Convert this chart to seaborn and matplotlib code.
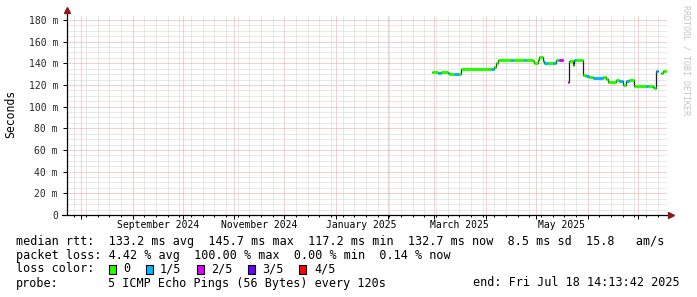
import numpy as np
import pandas as pd
import matplotlib
matplotlib.use("Agg")
import matplotlib.pyplot as plt
import matplotlib.dates as mdates
from matplotlib.patches import Rectangle
from matplotlib.transforms import blended_transform_factory
import seaborn as sns

# ---------------- data ----------------
dates = ["2025-02-27 12:00", "2025-03-03", "2025-03-05", "2025-03-09", "2025-03-10",
         "2025-03-13", "2025-03-16", "2025-03-17", "2025-03-25", "2025-04-02",
         "2025-04-04", "2025-04-06", "2025-04-07", "2025-04-08", "2025-04-10",
         "2025-04-16", "2025-04-17", "2025-04-24", "2025-04-25", "2025-04-29",
         "2025-04-30", "2025-05-02", "2025-05-03", "2025-05-05", "2025-05-06",
         "2025-05-08", "2025-05-11", "2025-05-13", "2025-05-14", "2025-05-15",
         "2025-05-17", "2025-05-20", "2025-05-21", "2025-05-23", "2025-05-24",
         "2025-05-25", "2025-05-28", "2025-05-29", "2025-05-31", "2025-06-02",
         "2025-06-04", "2025-06-09", "2025-06-10", "2025-06-12", "2025-06-13",
         "2025-06-16", "2025-06-18", "2025-06-20", "2025-06-22", "2025-06-24",
         "2025-06-26", "2025-06-29", "2025-07-03", "2025-07-06", "2025-07-07",
         "2025-07-10", "2025-07-11", "2025-07-12", "2025-07-13", "2025-07-15",
         "2025-07-16", "2025-07-17", "2025-07-18 14:13"]
median_ms = [131.7, 131.5, 131.7, 131.5, 130.4,
             130.4, 130.4, 134.5, 134.6, 134.5,
             134.5, 136.5, 140.5, 142.8, 143.2,
             143.0, 143.2, 143.4, 143.0, 142.0,
             140.0, 143.0, 145.7, 142.5, 140.0,
             140.2, 140.0, 143.0, 143.2, 143.0,
             None, 123.0, 142.5, 138.5, 143.0,
             143.2, 143.0, 129.0, 128.0, 127.5,
             126.0, 126.5, 127.0, 125.5, 123.0,
             122.5, 124.5, 124.0, 120.0, 124.0,
             124.5, 119.5, 119.2, 119.0, 119.3,
             118.0, 117.2, 133.2, None, 131.5,
             133.0, 132.7, None]
loss_level = [0, 1, 0, 1, 0,
              1, 0, 0, 0, 0,
              1, 0, 0, 0, 0,
              1, 0, 1, 0, 0,
              0, 0, 0, 0, 1,
              0, 1, 0, 1, 2,
              0, 2, 0, 0, 1,
              0, 0, 0, 1, 0,
              1, 1, 0, 0, 0,
              0, 0, 1, 0, 1,
              0, 0, 0, 1, 0,
              1, 0, 1, 0, 0,
              0, 0, 0]

loss_colors = ["#26ff00", "#00b8ff", "#dd00ff", "#6a00ff", "#ff0000"]
loss_labels = ["0", "1/5", "2/5", "3/5", "4/5"]

month_labels = ["September 2024", "November 2024", "January 2025", "March 2025", "May 2025"]
month_label_dates = ["2024-09-16", "2024-11-16", "2025-01-16", "2025-03-16", "2025-05-16"]
y_ticks = [0, 20, 40, 60, 80, 100, 120, 140, 160, 180]

legend_rows = [
    "median rtt:  133.2 ms avg  145.7 ms max  117.2 ms min  132.7 ms now  8.5 ms sd  15.8   am/s",
    "packet loss: 4.42 % avg  100.00 % max  0.00 % min  0.14 % now",
]
probe_text = "5 ICMP Echo Pings (56 Bytes) every 120s"
end_text = "end: Fri Jul 18 14:13:42 2025"

t_end = pd.Timestamp("2025-07-18 14:13:42")
t_start = t_end - pd.Timedelta(days=360)

# ---------------- build step table ----------------
t = pd.to_datetime(dates, format="mixed")
rows = []
segs = []
run = 0
for i in range(len(t) - 1):
    v = median_ms[i]
    if v is None:
        run += 1
        continue
    rows.append((t[i], v, run))
    rows.append((t[i + 1], v, run))
    segs.append((t[i], t[i + 1], v, loss_level[i]))
df = pd.DataFrame(rows, columns=["time", "median", "run"])
seg = pd.DataFrame(segs, columns=["t0", "t1", "median", "loss"])

# ---------------- figure ----------------
sns.set_theme(style="white")
plt.rcParams["font.family"] = ["DejaVu Sans Mono"]
W, H = 697, 297
fig = plt.figure(figsize=(W / 100, H / 100), dpi=100)
fig.patch.set_facecolor("white")
x0, y0, pw, ph = 67, 215, 600, 200
ax = fig.add_axes([x0 / W, (H - y0) / H, pw / W, ph / H])
ax.set_facecolor("white")

ymax = 184.6
ax.set_xlim(t_start, t_end)
ax.set_ylim(0, ymax)

# grid
ax.xaxis.set_major_locator(mdates.MonthLocator())
ax.xaxis.set_minor_locator(mdates.WeekdayLocator(byweekday=mdates.SU))
ax.xaxis.set_major_formatter(plt.NullFormatter())
ax.set_yticks(y_ticks)
ax.set_yticklabels([("%d m" % v) if v else "0" for v in y_ticks], fontsize=7.06)
ax.set_yticks(np.arange(0, 185, 5), minor=True)
ax.grid(which="minor", color="#d2d2d2", linestyle=(0, (1, 1)), linewidth=0.72)
ax.grid(which="major", color="#f0a0a0", linestyle=(0, (1, 1)), linewidth=0.72)
ax.set_axisbelow(True)
ax.tick_params(axis="y", which="major", length=3, width=0.72, color="black",
               pad=3.5, left=True)
ax.tick_params(axis="y", which="minor", length=0)
ax.tick_params(axis="x", which="major", length=3, width=0.72, color="black", bottom=True)
ax.tick_params(axis="x", which="minor", length=1.5, width=0.72, color="black", bottom=True)
for s in ax.spines.values():
    s.set_visible(False)

# data: dark median line, then loss-coloured segments
sns.lineplot(data=df, x="time", y="median", units="run", estimator=None, sort=False,
             color="#202020", linewidth=0.9, ax=ax, legend=False)
ax.hlines(seg["median"], seg["t0"], seg["t1"],
          colors=[loss_colors[k] for k in seg["loss"]], linewidth=2.2, zorder=3)
ax.set_xlabel("")
ax.set_ylabel("")
ax.set_xlim(t_start, t_end)
ax.set_ylim(0, ymax)

# axes lines with arrows
ax.plot([0, 0], [0, 1.02], transform=ax.transAxes, color="black", lw=0.9,
        clip_on=False, zorder=5)
ax.plot([-0.009, 1.004], [0, 0], transform=ax.transAxes, color="black", lw=0.9,
        clip_on=False, zorder=5)
ax.plot([0], [1.025], transform=ax.transAxes, marker="^", color="#8b1a1a",
        markersize=4, clip_on=False, zorder=6)
ax.plot([1.006], [0], transform=ax.transAxes, marker=">", color="#8b1a1a",
        markersize=4, clip_on=False, zorder=6)

# month labels
trans = blended_transform_factory(ax.transData, ax.transAxes)
for lab, d in zip(month_labels, month_label_dates):
    ax.text(pd.Timestamp(d), -10 / ph, lab, transform=trans, ha="center", va="center",
            fontsize=7.06, color="black")

# y label
fig.text(11 / W, 1 - 114 / H, "Seconds", rotation=90, ha="center", va="center",
         fontsize=8.3, color="black")

# watermark
fig.text(686 / W, 1 - 60 / H, "RRDTOOL / TOBI OETIKER", rotation=270, ha="center",
         va="center", fontsize=6.0, color="#c4c4c4")

# legend text
FS = 8.5
def ftext(x, y, s, ha="left"):
    fig.text(x / W, 1 - y / H, s, ha=ha, va="center", fontsize=FS, color="black")

r1, r2, r3, r4 = 241, 255, 269, 283
ftext(16, r1, legend_rows[0])
ftext(16, r2, legend_rows[1])

ftext(16, r3, "loss color:")
box_x = [109, 146, 197, 248, 299]
text_x = [123.5, 160, 211, 262, 314]
for bx, tx, c, lab in zip(box_x, text_x, loss_colors, loss_labels):
    fig.patches.append(Rectangle((bx / W, 1 - (r3 + 5) / H), 7 / W, 9 / H,
                                 transform=fig.transFigure, facecolor=c,
                                 edgecolor="black", linewidth=0.8))
    ftext(tx, r3, lab)

ftext(16, r4, "probe:")
ftext(108, r4, probe_text)
ftext(680, r4, end_text, ha="right")

fig.savefig("out.png", dpi=100, facecolor="white")
